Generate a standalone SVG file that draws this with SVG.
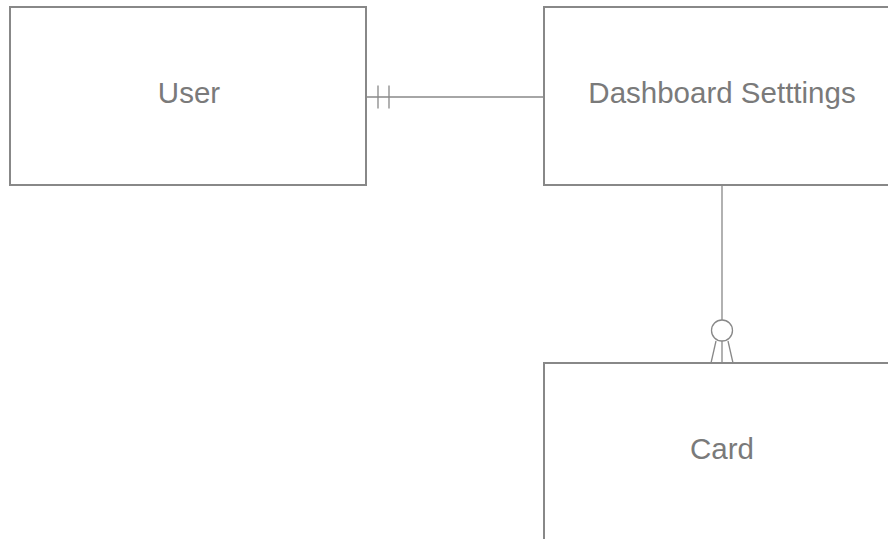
<svg xmlns="http://www.w3.org/2000/svg" width="888" height="539" viewBox="0 0 888 539">
  <style>
    .box { fill: #ffffff; stroke: #888888; stroke-width: 2; }
    .lbl { font-family: "Liberation Sans", Arial, sans-serif; font-size: 29.5px; fill: #7a7a7a; text-anchor: middle; }
    .conn { fill: none; stroke: #888888; stroke-width: 1.3; }
  </style>
  <rect width="888" height="539" fill="#ffffff"/>
  <g id="connectors">
    <g id="user-dashboard">
      <line class="conn" x1="366" y1="97" x2="544" y2="97"/>
      <line class="conn" x1="378" y1="85.5" x2="378" y2="108.5"/>
      <line class="conn" x1="389" y1="85.5" x2="389" y2="108.5"/>
    </g>
    <g id="dashboard-card">
      <line class="conn" x1="722" y1="185" x2="722" y2="320"/>
      <circle class="conn" cx="722" cy="330.5" r="10.5"/>
      <line class="conn" x1="722" y1="341" x2="722" y2="363"/>
      <line class="conn" x1="716" y1="341" x2="711" y2="363"/>
      <line class="conn" x1="728" y1="341" x2="733" y2="363"/>
    </g>
  </g>
  <g id="user">
    <rect class="box" x="10" y="7" width="356" height="178"/>
    <text class="lbl" x="189" y="103">User</text>
  </g>
  <g id="dashboard-settings">
    <rect class="box" x="544" y="7" width="356" height="178"/>
    <text class="lbl" x="722" y="103">Dashboard Setttings</text>
  </g>
  <g id="card">
    <rect class="box" x="544" y="363" width="356" height="178"/>
    <text class="lbl" x="722" y="459">Card</text>
  </g>
</svg>
